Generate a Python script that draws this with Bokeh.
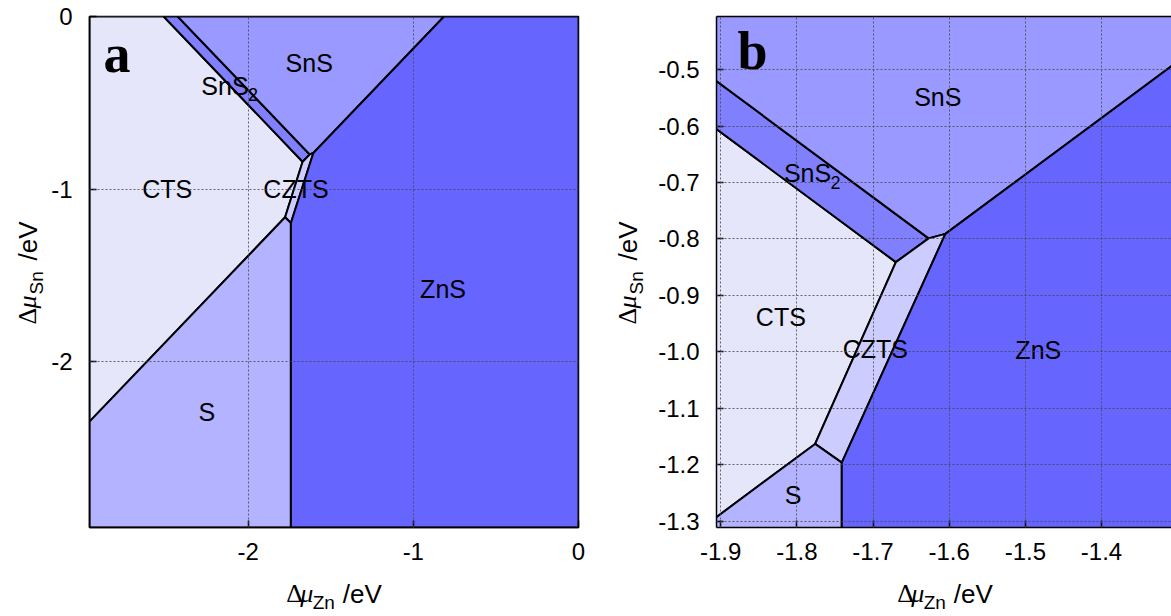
import math
from bokeh.plotting import figure
from bokeh.layouts import row, column
from bokeh.models import FixedTicker, PrintfTickFormatter, LinearAxis, Label, Range1d
from bokeh.core.properties import value
from bokeh.embed import file_html
from bokeh.resources import INLINE

# ---- phase regions: polygon vertices (Δμ_Zn, Δμ_Sn) in eV ----
cts_x = [-2.96, -2.511, -1.670, -1.776, -2.96]
cts_y = [0.0, 0.0, -0.841, -1.163, -2.347]
sns2_x = [-2.511, -2.426, -1.627, -1.670]
sns2_y = [0.0, 0.0, -0.799, -0.841]
sns_x = [-2.426, -0.814, -1.605, -1.627]
sns_y = [0.0, 0.0, -0.791, -0.799]
czts_x = [-1.627, -1.605, -1.741, -1.776, -1.670]
czts_y = [-0.799, -0.791, -1.196, -1.163, -0.841]
s_x = [-2.96, -1.776, -1.741, -1.741, -2.96]
s_y = [-2.347, -1.163, -1.196, -2.96, -2.96]
zns_x = [-0.814, 0.0, 0.0, -1.741, -1.741, -1.605]
zns_y = [0.0, 0.0, -2.96, -2.96, -1.196, -0.791]
phase_colors = ["#e6e6fb", "#8080ff", "#9999ff", "#ccccff", "#b3b3ff", "#6666ff"]

# ---- panel a ----
a_xrange = (-2.96, 0.0)
a_yrange = (-2.96, 0.0)
a_xticks = [-2, -1, 0]
a_yticks = [-2, -1, 0]
a_text = ["SnS", "SnS", "CTS", "CZTS", "ZnS", "S"]
a_text_x = [-1.63, -2.14, -2.49, -1.71, -0.82, -2.25]
a_text_y = [-0.27, -0.40, -1.00, -1.00, -1.58, -2.29]
a_sub_x = [-2.14]
a_sub_y = [-0.40]

# ---- panel b ----
b_xrange = (-1.9055, -1.3081)
b_yrange = (-1.311, -0.406)
b_xticks = [-1.9, -1.8, -1.7, -1.6, -1.5, -1.4, -1.3]
b_yticks = [-1.3, -1.2, -1.1, -1.0, -0.9, -0.8, -0.7, -0.6, -0.5]
b_text = ["SnS", "SnS", "CTS", "CZTS", "ZnS", "S"]
b_text_x = [-1.615, -1.786, -1.821, -1.697, -1.483, -1.805]
b_text_y = [-0.548, -0.684, -0.938, -0.994, -0.997, -1.254]
b_sub_x = [-1.786]
b_sub_y = [-0.684]

SANS = "Liberation Sans"
SERIF = "Liberation Serif"
H = 616
XT_H = 44            # height of the strip holding the x title
YT_WA = 48           # width of the strip holding panel a's rotated y title
YT_WB = 55           # same for panel b
FRAME_BOTTOM = 527


def style_axis(ax, ticks, fmt, standoff):
    ax.ticker = FixedTicker(ticks=ticks)
    ax.formatter = PrintfTickFormatter(format=fmt)
    ax.major_tick_in = 7
    ax.major_tick_out = 0
    ax.minor_tick_line_color = None
    ax.major_label_text_font = SANS
    ax.major_label_text_font_size = "24px"
    ax.major_label_text_color = "black"
    ax.major_label_standoff = standoff
    ax.axis_line_color = "black"
    ax.axis_line_width = 1.5
    ax.major_tick_line_color = "black"
    ax.major_tick_line_width = 1.5


def make_panel(xr, yr, xticks, yticks, fmt, width, bl, br, texts, tx, ty, subx, suby,
               letter, letter_pos, full_outline):
    p = figure(width=width, height=H - XT_H, x_range=Range1d(*xr), y_range=Range1d(*yr),
               output_backend="svg", toolbar_location=None,
               min_border_left=bl, min_border_right=br, min_border_top=16,
               min_border_bottom=H - XT_H - FRAME_BOTTOM)
    p.background_fill_color = "white"
    p.border_fill_color = "white"

    style_axis(p.below[0], xticks, fmt, 15)
    style_axis(p.left[0], yticks, fmt, 17)

    if full_outline:
        p.outline_line_color = "black"
        p.outline_line_width = 1.5
    else:
        p.outline_line_color = None
        top = LinearAxis(ticker=FixedTicker(ticks=[]))
        top.axis_line_color = "black"
        top.axis_line_width = 1.5
        top.major_tick_line_color = None
        top.minor_tick_line_color = None
        top.major_label_standoff = 0
        p.add_layout(top, "above")

    xs = [cts_x, sns2_x, sns_x, czts_x, s_x, zns_x]
    ys = [cts_y, sns2_y, sns_y, czts_y, s_y, zns_y]
    p.patches(xs, ys, fill_color=phase_colors, line_color="black", line_width=2)

    for g, ticks in ((p.xgrid[0], xticks), (p.ygrid[0], yticks)):
        g.ticker = FixedTicker(ticks=ticks)
        g.grid_line_color = "#444444"
        g.grid_line_dash = "2 2"
        g.grid_line_width = 1
        g.grid_line_alpha = 0.8
        g.level = "overlay"

    p.text(x=tx, y=ty, text=texts, text_align="center", text_baseline="middle",
           text_font=value(SANS), text_font_size="25px", text_color="black")
    p.text(x=subx, y=suby, text=["2"] * len(subx), text_align="left", text_baseline="middle",
           x_offset=23, y_offset=9, text_font=value(SANS), text_font_size="18px", text_color="black")

    p.add_layout(Label(x=letter_pos[0], y=letter_pos[1], x_units="screen", y_units="screen",
                       text=letter, text_font=SERIF, text_font_style="bold",
                       text_font_size="54px", text_color="black", text_baseline="alphabetic"))
    return p


def blank(width, height):
    f = figure(width=width, height=height, x_range=Range1d(0, width), y_range=Range1d(0, height),
               output_backend="svg", toolbar_location=None, x_axis_type=None, y_axis_type=None,
               min_border=0, min_border_left=0, min_border_right=0, min_border_top=0,
               min_border_bottom=0)
    f.outline_line_color = None
    f.background_fill_color = "white"
    f.border_fill_color = "white"
    f.grid.visible = False
    return f


# pieces of the title "Δμ_X /eV": text, font, style, size, advance, shift of the middle line
def title_pieces(sub):
    return [("Δ", SERIF, "normal", "26px", 0, 0),
            ("μ", SERIF, "italic", "26px", 16, 0),
            (sub, SANS, "normal", "19px", 30, 9),
            ("/eV", SANS, "normal", "26px", 64, 0)]


def x_title(width, start_x, sub):
    f = blank(width, XT_H)
    mid = H - 593           # middle line, measured up from the page bottom
    for t, font, st, sz, dx, dy in title_pieces(sub):
        f.text(x=[start_x + dx], y=[mid - dy], text=[t], text_font=value(font),
               text_font_style=st, text_font_size=sz, text_color="black",
               text_align="left", text_baseline="middle")
    return f


def y_title(width, start_y, sub):
    f = blank(width, H)
    mid_x = 27
    for t, font, st, sz, dx, dy in title_pieces(sub):
        f.text(x=[mid_x + dy], y=[H - start_y + dx], text=[t], text_font=value(font),
               text_font_style=st, text_font_size=sz, text_color="black",
               text_align="left", text_baseline="middle", angle=math.pi / 2)
    return f


pa = make_panel(a_xrange, a_yrange, a_xticks, a_yticks, "%d", 600 - YT_WA, 89 - YT_WA, 22,
                a_text, a_text_x, a_text_y, a_sub_x, a_sub_y, "a", (14, 474), True)
pb = make_panel(b_xrange, b_yrange, b_xticks, b_yticks, "%.1f", 571 - YT_WB, 716 - 600 - YT_WB, 0,
                b_text, b_text_x, b_text_y, b_sub_x, b_sub_y, "b", (21, 477), False)

xa = x_title(600 - YT_WA, 270 - YT_WA, "Zn")
xb = x_title(571 - YT_WB, 860 - 600 - YT_WB, "Zn")
ya = y_title(YT_WA, 324, "Sn")
yb = y_title(YT_WB, 324, "Sn")

layout = row(ya, column(pa, xa, spacing=0), yb, column(pb, xb, spacing=0), spacing=0)
open("out.html", "w").write(file_html(layout, INLINE))
